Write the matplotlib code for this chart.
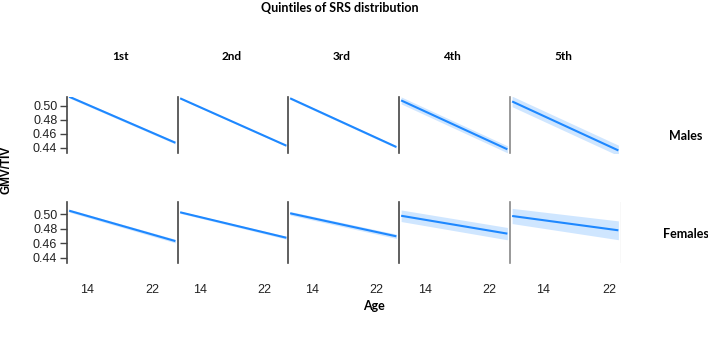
import matplotlib
matplotlib.use("Agg")
import matplotlib.pyplot as plt
import numpy as np

W, H = 708, 338
quintiles = ["1st", "2nd", "3rd", "4th", "5th"]
sexes = ["Males", "Females"]

# age range covered by each quintile's fitted line
age_start = [11.8, 11.5, 11.3, 11.0, 10.3]
age_end = [24.9, 24.8, 24.5, 24.3, 23.1]

# fitted GMV/TIV at the start and end of each line
males_start = [0.5129, 0.5106, 0.5106, 0.5076, 0.5061]
males_end = [0.4471, 0.4429, 0.4410, 0.4377, 0.4361]
males_ci = [0.0018, 0.0012, 0.0016, 0.0050, 0.0075]

females_start = [0.5050, 0.5028, 0.5014, 0.4980, 0.4977]
females_end = [0.4630, 0.4676, 0.4696, 0.4733, 0.4779]
females_ci_start = [0.0020, 0.0015, 0.0025, 0.0080, 0.0105]
females_ci_end = [0.0025, 0.0020, 0.0030, 0.0085, 0.0130]

yticks = [0.44, 0.46, 0.48, 0.50]
xticks = [14, 22]

line_col = "#1E88FF"
band_col = "#CFE6FF"
spine_col = "#444444"

fig = plt.figure(figsize=(W / 100, H / 100), dpi=100)

col_left = [67, 178, 288, 399, 510]
col_w = 110.5
rows = {"Males": (96.7, 153.3, (0.4320, 0.5129)),
        "Females": (202.3, 263.3, (0.4323, 0.5166))}

def px_axes(x0, y0, x1, y1):
    return fig.add_axes([x0 / W, 1 - y1 / H, (x1 - x0) / W, (y1 - y0) / H])

for r, sex in enumerate(sexes):
    ytop, ybot, ylim = rows[sex]
    for c in range(5):
        ax = px_axes(col_left[c], ytop, col_left[c] + col_w, ybot)
        a0, a1 = age_start[c], age_end[c]
        if sex == "Males":
            v = [males_start[c], males_end[c]]
            ci = [males_ci[c], males_ci[c]]
        else:
            v = [females_start[c], females_end[c]]
            ci = [females_ci_start[c], females_ci_end[c]]
        xs = [a0, a1]
        ax.fill_between(xs, [v[0] - ci[0], v[1] - ci[1]], [v[0] + ci[0], v[1] + ci[1]],
                        color=band_col, lw=0, zorder=1)
        ax.plot(xs, v, color=line_col, lw=1.5, zorder=2, solid_capstyle="butt")
        pad = (a1 - a0) * 0.02
        ax.set_xlim(a0 - pad, a1 + pad)
        ax.set_ylim(*ylim)
        for s in ["top", "right", "bottom"]:
            ax.spines[s].set_visible(False)
        ax.spines["left"].set_color(spine_col if c < 4 else "#888888")
        ax.spines["left"].set_linewidth(1.2)
        if c == 0:
            ax.set_yticks(yticks)
            ax.set_yticklabels([f"{t:.2f}" for t in yticks], fontsize=9,
                               family="Liberation Sans", color="#222222")
            ax.tick_params(axis="y", length=5, width=1, color=spine_col, pad=2)
        else:
            ax.set_yticks([])
        if r == 1:
            ax.set_xticks(xticks)
            ax.set_xticklabels([str(t) for t in xticks], fontsize=9,
                               family="Liberation Sans", color="#222222")
            ax.tick_params(axis="x", length=0, pad=15)
        else:
            ax.set_xticks([])
        ax.patch.set_alpha(0)
        if r == 0:
            fig.text((col_left[c] + col_w / 2 - 2) / W, 1 - 56 / H, quintiles[c],
                     ha="center", va="center", fontsize=8.5, fontweight="bold",
                     family="Lato")
    if sex == "Females":
        ax.axvline(ax.get_xlim()[1], color="#E0E0E0", lw=1)

fig.text(340 / W, 1 - 8 / H, "Quintiles of SRS distribution", ha="center", va="center",
         fontsize=9, fontweight="bold", family="Lato")
fig.text(686 / W, 1 - 136 / H, "Males", ha="center", va="center",
         fontsize=9, fontweight="bold", family="Lato")
fig.text(686 / W, 1 - 234 / H, "Females", ha="center", va="center",
         fontsize=9, fontweight="bold", family="Lato")
fig.text(7 / W, 1 - 170 / H, "GMV/TIV", ha="center", va="center", rotation=90,
         fontsize=8.5, fontweight="bold", family="Liberation Sans")
fig.text(374 / W, 1 - 306 / H, "Age", ha="center", va="center",
         fontsize=9, fontweight="bold", family="Lato")

fig.savefig("out.png", dpi=100)
